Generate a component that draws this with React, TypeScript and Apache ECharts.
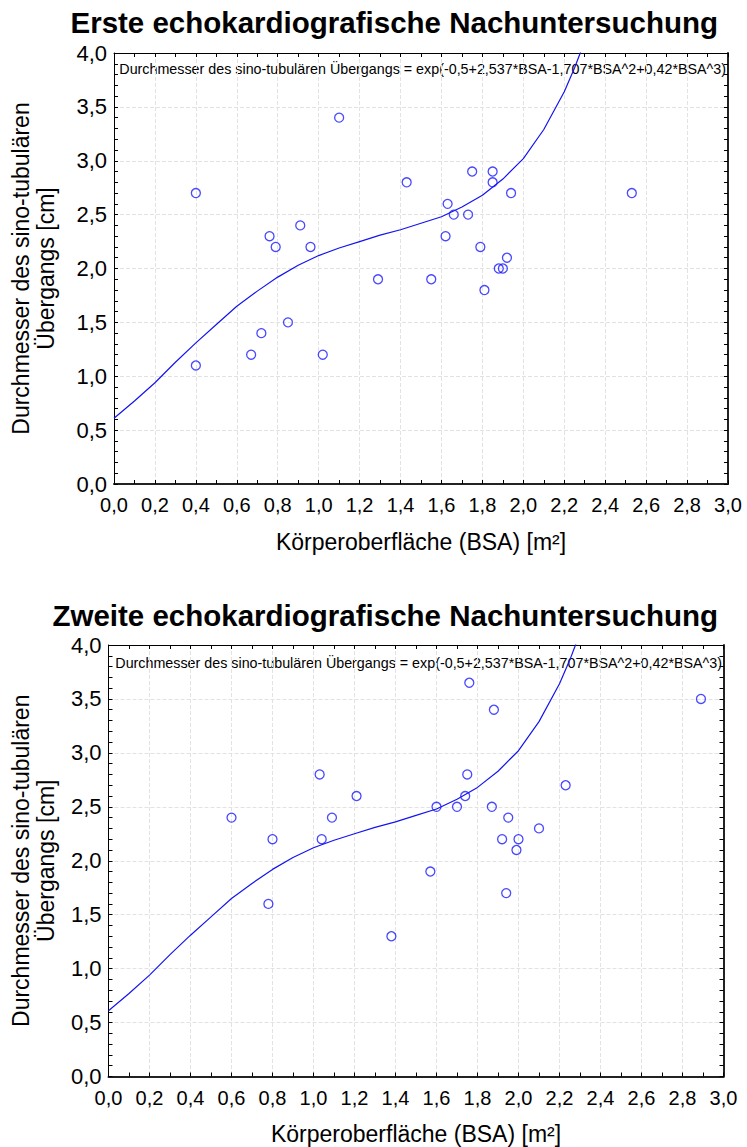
import React, { useEffect, useRef } from "react";
import * as echarts from "echarts";

const TITLES = [
  "Erste echokardiografische Nachuntersuchung",
  "Zweite echokardiografische Nachuntersuchung",
];
const EQUATION =
  "Durchmesser des sino-tubulären Übergangs = exp(-0,5+2,537*BSA-1,707*BSA^2+0,42*BSA^3)";
const X_NAME = "Körperoberfläche (BSA) [m²]";
const Y_NAME = "Durchmesser des sino-tubulären\nÜbergangs [cm]";

const X_MIN = 0;
const X_MAX = 3;
const X_STEP = 0.2;
const Y_MIN = 0;
const Y_MAX = 4;
const Y_STEP = 0.5;

// Panel 1: first follow-up
const firstBSA = [0.4, 0.4, 0.67, 0.72, 0.76, 0.79, 0.85, 0.91, 0.96, 1.02, 1.1, 1.29, 1.43, 1.55, 1.62, 1.63, 1.66, 1.73, 1.75, 1.79, 1.81, 1.85, 1.85, 1.88, 1.9, 1.92, 1.94, 2.53];
const firstDiam = [2.7, 1.1, 1.2, 1.4, 2.3, 2.2, 1.5, 2.4, 2.2, 1.2, 3.4, 1.9, 2.8, 1.9, 2.3, 2.6, 2.5, 2.5, 2.9, 2.2, 1.8, 2.9, 2.8, 2.0, 2.0, 2.1, 2.7, 2.7];

// Panel 2: second follow-up
const secondBSA = [0.6, 0.78, 0.8, 1.03, 1.04, 1.09, 1.21, 1.38, 1.57, 1.6, 1.7, 1.74, 1.75, 1.76, 1.87, 1.88, 1.92, 1.94, 1.95, 1.99, 2.0, 2.1, 2.23, 2.89];
const secondDiam = [2.4, 1.6, 2.2, 2.8, 2.2, 2.4, 2.6, 1.3, 1.9, 2.5, 2.5, 2.6, 2.8, 3.65, 2.5, 3.4, 2.2, 1.7, 2.4, 2.1, 2.2, 2.3, 2.7, 3.5];

// Fitted curve
const curveBSA = [0, 0.1, 0.2, 0.3, 0.4, 0.5, 0.6, 0.7, 0.8, 0.9, 1.0, 1.1, 1.2, 1.3, 1.4, 1.5, 1.6, 1.7, 1.8, 1.9, 2.0, 2.1, 2.2, 2.25, 2.28];
const curveDiam = [0.61, 0.77, 0.94, 1.13, 1.31, 1.48, 1.65, 1.79, 1.92, 2.03, 2.12, 2.19, 2.25, 2.31, 2.36, 2.42, 2.48, 2.57, 2.68, 2.83, 3.02, 3.29, 3.64, 3.86, 4.01];

const FONT = "'Liberation Sans', Arial, Helvetica, sans-serif";
const BLUE = "#1a1aff";

const fmt = (v: number) => v.toFixed(1).replace(".", ",");

function pairs(xs: number[], ys: number[]) {
  return xs.map((x, i) => [x, ys[i]]);
}

export default function App() {
  const ref = useRef<HTMLDivElement>(null);

  useEffect(() => {
    document.body.style.margin = "0";
    if (!ref.current) return;
    const chart = echarts.init(ref.current, undefined, { renderer: "svg" });

    const grids = [
      { left: 109.5, top: 53, width: 618.5, height: 431 },
      { left: 104, top: 645, width: 619.5, height: 431.5 },
    ];
    const yNameGaps = [56, 50.5];

    const xAxes: any[] = [];
    const yAxes: any[] = [];
    grids.forEach((_, gi) => {
      xAxes.push({
        type: "value",
        gridIndex: gi,
        position: "bottom",
        min: X_MIN,
        max: X_MAX,
        interval: X_STEP,
        name: X_NAME,
        nameLocation: "middle",
        nameGap: 46,
        nameTextStyle: { fontFamily: FONT, fontSize: 23, color: "#000" },
        axisLine: { show: true, onZero: false, lineStyle: { color: "#222", width: 2 } },
        axisTick: { show: true, inside: true, length: 4, lineStyle: { color: "#000" } },
        minorTick: { show: true, splitNumber: 2, length: 4, lineStyle: { color: "#000" } },
        axisLabel: {
          show: true,
          margin: 11,
          formatter: fmt,
          fontFamily: FONT,
          fontSize: 20,
          color: "#000",
          showMinLabel: true,
          showMaxLabel: true,
        },
        splitLine: { show: true, lineStyle: { color: "#e2e2e2", type: "dashed", width: 1 } },
      });
      xAxes.push({
        type: "value",
        gridIndex: gi,
        position: "top",
        min: X_MIN,
        max: X_MAX,
        interval: X_STEP,
        axisLine: { show: true, onZero: false, lineStyle: { color: "#000", width: 1 } },
        axisTick: { show: true, inside: true, length: 4, lineStyle: { color: "#000" } },
        minorTick: { show: true, splitNumber: 2, length: 4, lineStyle: { color: "#000" } },
        axisLabel: { show: false },
        splitLine: { show: false },
      });
      yAxes.push({
        type: "value",
        gridIndex: gi,
        position: "left",
        min: Y_MIN,
        max: Y_MAX,
        interval: Y_STEP,
        name: Y_NAME,
        nameLocation: "middle",
        nameRotate: 90,
        nameGap: yNameGaps[gi],
        nameTextStyle: { fontFamily: FONT, fontSize: 23, color: "#000", lineHeight: 25 },
        axisLine: { show: true, onZero: false, lineStyle: { color: "#000", width: 1 } },
        axisTick: { show: true, inside: true, length: 4, lineStyle: { color: "#000" } },
        minorTick: { show: true, splitNumber: 5, length: 4, lineStyle: { color: "#000" } },
        axisLabel: {
          show: true,
          margin: 7,
          formatter: fmt,
          fontFamily: FONT,
          fontSize: 22,
          color: "#000",
          showMinLabel: true,
          showMaxLabel: true,
        },
        splitLine: { show: true, lineStyle: { color: "#e2e2e2", type: "dashed", width: 1 } },
      });
      yAxes.push({
        type: "value",
        gridIndex: gi,
        position: "right",
        min: Y_MIN,
        max: Y_MAX,
        interval: Y_STEP,
        axisLine: { show: true, onZero: false, lineStyle: { color: "#222", width: 2 } },
        axisTick: { show: true, inside: true, length: 4, lineStyle: { color: "#000" } },
        minorTick: { show: true, splitNumber: 5, length: 4, lineStyle: { color: "#000" } },
        axisLabel: { show: false },
        splitLine: { show: false },
      });
    });

    const panels = [
      pairs(firstBSA, firstDiam),
      pairs(secondBSA, secondDiam),
    ];
    const curve = pairs(curveBSA, curveDiam);

    const series: any[] = [];
    panels.forEach((pts, gi) => {
      series.push({
        type: "line",
        xAxisIndex: gi * 2,
        yAxisIndex: gi * 2,
        data: curve,
        showSymbol: false,
        symbol: "none",
        clip: true,
        lineStyle: { color: "#1414f0", width: 1.2 },
        z: 3,
      });
      series.push({
        type: "scatter",
        xAxisIndex: gi * 2,
        yAxisIndex: gi * 2,
        data: pts,
        symbol: "circle",
        symbolSize: 9,
        itemStyle: { color: "rgba(255,255,255,0)", borderColor: BLUE, borderWidth: 1.3 },
        z: 4,
      });
    });

    const option = {
      animation: false,
      backgroundColor: "#fff",
      title: [
        {
          text: TITLES[0],
          right: 24,
          top: 2,
          textStyle: { fontFamily: FONT, fontSize: 29.5, fontWeight: "bold", color: "#000" },
        },
        {
          text: TITLES[1],
          right: 24,
          top: 595,
          textStyle: { fontFamily: FONT, fontSize: 29.5, fontWeight: "bold", color: "#000" },
        },
      ],
      grid: grids,
      xAxis: xAxes,
      yAxis: yAxes,
      series,
      graphic: [
        {
          type: "text",
          right: 21,
          top: 62,
          style: { text: EQUATION, fontFamily: FONT, fontSize: 14.3, fill: "#000" },
        },
        {
          type: "text",
          right: 25,
          top: 655.5,
          style: { text: EQUATION, fontFamily: FONT, fontSize: 14.3, fill: "#000" },
        },
      ],
    };

    chart.setOption(option);
    return () => chart.dispose();
  }, []);

  return <div ref={ref} style={{ width: 747, height: 1147 }} />;
}
